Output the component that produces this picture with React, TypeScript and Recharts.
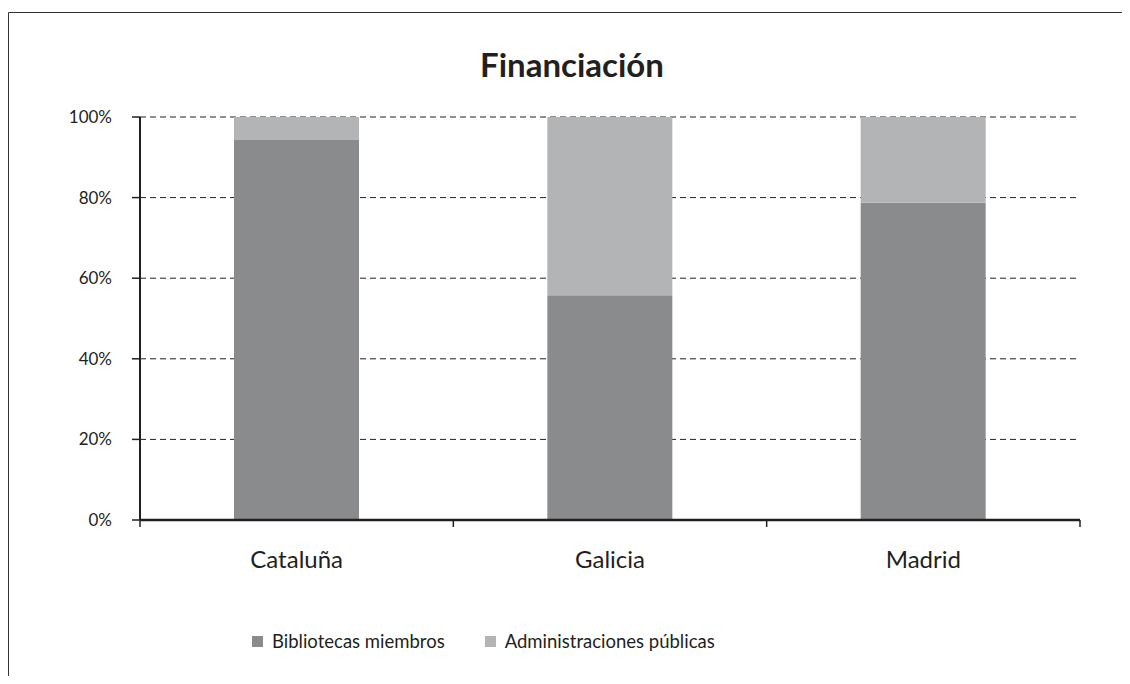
import { BarChart, Bar, XAxis, YAxis, CartesianGrid, Legend } from 'recharts'

const categories = ['Cataluña', 'Galicia', 'Madrid']
const bibliotecas = [94.3, 55.8, 78.7]
const administraciones = [5.7, 44.2, 21.3]
const yTicks = [0, 20, 40, 60, 80, 100]

const seriesNames = ['Bibliotecas miembros', 'Administraciones públicas']
const seriesColors = ['#8a8b8d', '#b3b4b6']

const data = categories.map((name, i) => ({
  name,
  bibliotecas: bibliotecas[i],
  administraciones: administraciones[i],
}))

const ink = '#231f20'
const font = 'Lato, "Open Sans", sans-serif'

// category label plus tick marks on the band edges (Excel style)
function CategoryTick(props: any) {
  const { x, y, payload, index } = props
  const half = payload?.offset ?? 0
  const last = index === categories.length - 1
  return (
    <g>
      <line x1={x - half} x2={x - half} y1={y} y2={y + 7} stroke={ink} strokeWidth={1.5} />
      {last && <line x1={x + half} x2={x + half} y1={y} y2={y + 7} stroke={ink} strokeWidth={1.5} />}
      <text x={x} y={y + 48} textAnchor="middle" fontSize={24} fill={ink} fontFamily={font}>
        {payload.value}
      </text>
    </g>
  )
}

function LegendBox() {
  return (
    <div style={{ height: 50, display: 'flex', alignItems: 'center', paddingLeft: 244, fontFamily: font, fontSize: 18.5, color: ink }}>
      {seriesNames.map((n, i) => (
        <div key={n} style={{ display: 'flex', alignItems: 'center', marginRight: 40 }}>
          <span style={{ width: 11, height: 11, background: seriesColors[i], marginRight: 9, display: 'inline-block' }} />
          <span>{n}</span>
        </div>
      ))}
    </div>
  )
}

export default function App() {
  return (
    <div style={{ position: 'relative', width: 1114, height: 668, background: '#fff' }}>
      {/* frame: only the top and left edges are in view */}
      <svg width={1114} height={668} style={{ position: 'absolute', left: 0, top: 0 }}>
        <path d="M0.5,668 V4.5 H1114" fill="none" stroke="#333" strokeWidth={1} />
      </svg>
      <div style={{ position: 'absolute', left: 7, width: 1114, top: 36, textAlign: 'center', fontFamily: font, fontWeight: 700, fontSize: 33, color: ink, lineHeight: '40px' }}>
        Financiación
      </div>
      <BarChart
        width={1114}
        height={668}
        data={data}
        margin={{ top: 109, right: 42, left: 0, bottom: 10 }}
        barCategoryGap="30%"
        style={{ position: 'absolute', left: 0, top: 0 }}
      >
        <CartesianGrid vertical={false} stroke={ink} strokeDasharray="6 4" />
        <XAxis dataKey="name" height={96} tickLine={false} tickSize={0} tickMargin={0} axisLine={{ stroke: ink, strokeWidth: 2.5 }} tick={<CategoryTick />} interval={0} />
        <YAxis domain={[0, 100]} ticks={yTicks} width={132} tickSize={8} tickMargin={20} tickFormatter={(v) => `${v}%`} axisLine={{ stroke: ink, strokeWidth: 2 }} tickLine={{ stroke: ink, strokeWidth: 1.5 }} tick={{ fontSize: 17, fill: ink, fontFamily: font }} />
        <YAxis yAxisId="r" orientation="right" domain={[0, 100]} width={0} tick={false} tickLine={false} axisLine={{ stroke: ink, strokeWidth: 2 }} />
        <Legend verticalAlign="bottom" content={() => <LegendBox />} />
        <Bar dataKey="bibliotecas" name={seriesNames[0]} stackId="a" fill={seriesColors[0]} isAnimationActive={false} />
        <Bar dataKey="administraciones" name={seriesNames[1]} stackId="a" fill={seriesColors[1]} isAnimationActive={false} />
      </BarChart>
    </div>
  )
}
